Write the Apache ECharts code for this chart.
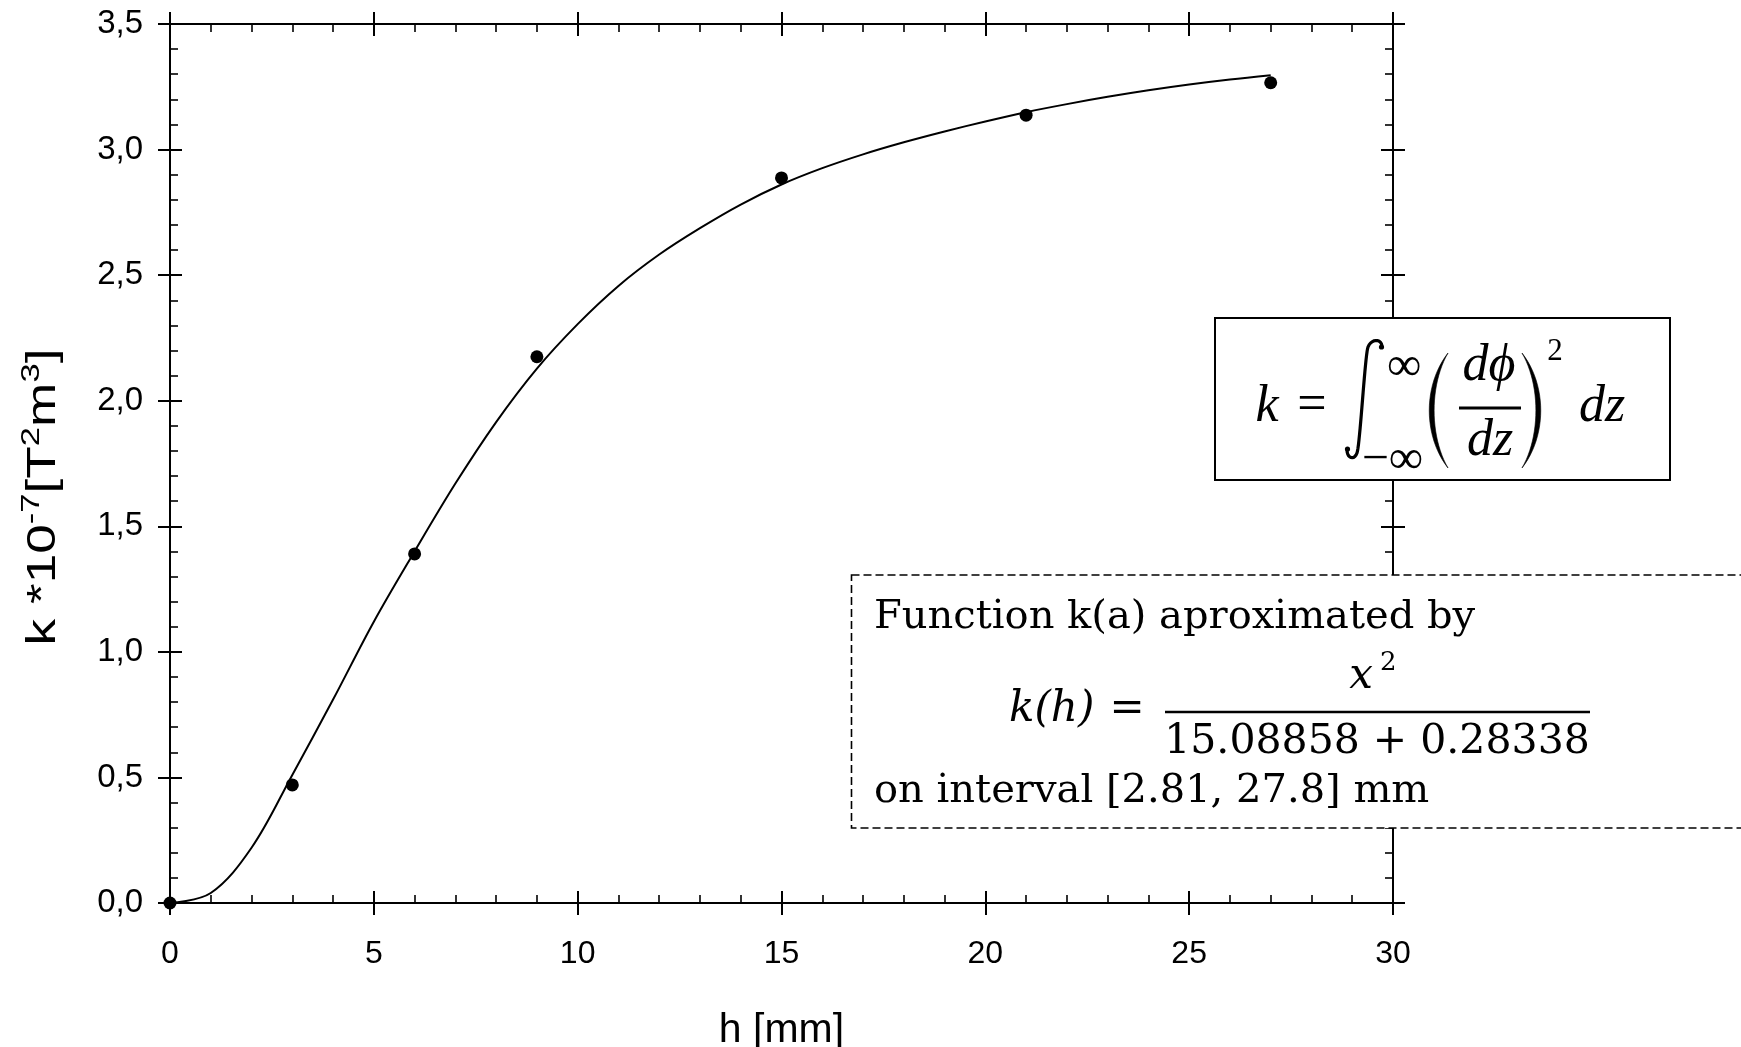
<!DOCTYPE html>
<html>
<head>
<meta charset="utf-8">
<script src="https://cdn.jsdelivr.net/npm/echarts@6/dist/echarts.min.js"></script>
<style>
  html, body { margin: 0; padding: 0; background: #fff; }
  #chart { width: 1741px; height: 1047px; }
</style>
</head>
<body>
<div id="chart"></div>
<script>
// Measured coupling constant k at each height h
const hValues = [0, 3, 6, 9, 15, 21, 27];
const kValues = [0, 0.47, 1.39, 2.175, 2.887, 3.137, 3.266];

// Approximating curve k(h), sampled along h
const fitH = [0, 1, 2, 3, 4, 5, 6, 7, 8, 9, 10, 11, 12, 13, 14, 15, 16, 17, 18, 19, 20, 21, 22, 23, 24, 25, 26, 27];
const fitK = [0, 0.04, 0.22, 0.51, 0.81, 1.12, 1.40, 1.67, 1.915, 2.128, 2.305, 2.457, 2.582, 2.687, 2.781, 2.861, 2.926, 2.981, 3.029, 3.072, 3.112, 3.149, 3.181, 3.21, 3.236, 3.259, 3.279, 3.296];

// Tick labels
const xTickLabels = ['0', '5', '10', '15', '20', '25', '30'];
const yTickLabels = ['0,0', '0,5', '1,0', '1,5', '2,0', '2,5', '3,0', '3,5'];

const SANS = '"Liberation Sans", Arial, sans-serif';
const SERIF = '"Liberation Serif", "Times New Roman", serif';
const TEXT_SERIF = '"DejaVu Serif", serif';
const BLACK = '#000';

const chart = echarts.init(document.getElementById('chart'), null, { renderer: 'canvas' });

// shared pieces for the boxed frame: every side carries ticks that cross the line
function xAxisDef(position, withLabels, inside) {
  return {
    type: 'value', gridIndex: 0, position: position,
    min: 0, max: 30, interval: 5,
    axisLine: { show: inside, onZero: false, lineStyle: { color: BLACK, width: 2 } },
    axisTick: { show: true, inside: inside, length: 12, lineStyle: { color: BLACK, width: 2 } },
    minorTick: { show: inside, splitNumber: 5, length: 8, lineStyle: { color: BLACK, width: 1.6 } },
    splitLine: { show: false }, minorSplitLine: { show: false },
    axisLabel: withLabels ? {
      show: true, margin: 35, color: BLACK, fontSize: 32, fontFamily: SANS,
      formatter: v => xTickLabels[Math.round(v / 5)]
    } : { show: false },
    name: withLabels ? 'h [mm]' : '',
    nameLocation: 'middle', nameGap: 107,
    nameTextStyle: { color: BLACK, fontSize: 41, fontFamily: SANS }
  };
}
function yAxisDef(position, withLabels, inside) {
  return {
    type: 'value', gridIndex: 0, position: position,
    min: 0, max: 3.5, interval: 0.5,
    axisLine: { show: inside, onZero: false, lineStyle: { color: BLACK, width: 2 } },
    axisTick: { show: true, inside: inside, length: 12, lineStyle: { color: BLACK, width: 2 } },
    minorTick: { show: inside, splitNumber: 5, length: 8, lineStyle: { color: BLACK, width: 1.6 } },
    splitLine: { show: false }, minorSplitLine: { show: false },
    axisLabel: withLabels ? {
      show: true, margin: 27, color: BLACK, fontSize: 33, fontFamily: SANS,
      formatter: v => yTickLabels[Math.round(v / 0.5)]
    } : { show: false }
  };
}

// text helper: anchor at (x, baseline)
function mathText(text, x, baseline, size, opt) {
  opt = opt || {};
  const family = opt.family || SERIF;
  const mid = opt.mid || 0.3375;
  return {
    type: 'text', z: 101,
    x: x, y: baseline - mid * size,
    style: {
      text: text, x: 0, y: 0,
      font: (opt.italic ? 'italic ' : '') + size + 'px ' + family,
      fill: BLACK,
      align: opt.align || 'center', verticalAlign: 'middle',
      textAlign: opt.align || 'center', textVerticalAlign: 'middle'
    }
  };
}
function capText(text, x, baseline, size, opt) {
  opt = Object.assign({ family: TEXT_SERIF, mid: 0.346 }, opt || {});
  return mathText(text, x, baseline, size, opt);
}

// points along a cubic Bezier segment, used for the glyph outlines below
function cubic(p0, p1, p2, p3, n) {
  const pts = [];
  for (let i = 0; i <= n; i++) {
    const t = i / n, u = 1 - t;
    pts.push([
      u * u * u * p0[0] + 3 * u * u * t * p1[0] + 3 * u * t * t * p2[0] + t * t * t * p3[0],
      u * u * u * p0[1] + 3 * u * u * t * p1[1] + 3 * u * t * t * p2[1] + t * t * t * p3[1]
    ]);
  }
  return pts;
}
// a crescent-shaped bracket between top and bottom points
function bracket(xEnd, top, bottom, outerX, innerX) {
  const outer = cubic([xEnd, top], [outerX, top + 32], [outerX, bottom - 32], [xEnd, bottom], 24);
  const inner = cubic([xEnd, bottom], [innerX, bottom - 32], [innerX, top + 32], [xEnd, top], 24);
  return { type: 'polygon', z: 101, shape: { points: outer.concat(inner) },
           style: { fill: BLACK, stroke: BLACK, lineWidth: 0.6 } };
}
const integralPts = []
  .concat(cubic([1347, 450], [1347, 458], [1354, 461], [1357, 453], 10))
  .concat(cubic([1357, 453], [1360, 445], [1365, 355], [1368, 347], 20).slice(1))
  .concat(cubic([1368, 347], [1371, 339], [1381, 338], [1382, 346], 10).slice(1));

const graphics = [
  // vertical axis title, read bottom to top
  { type: 'text', z: 50, x: 64, y: 497, rotation: Math.PI / 2, scaleX: 1.33,
    style: {
      text: '{t|k *10}{s|-7}{t|[T}{s|2}{t|m}{s|3}{t|]}', x: 0, y: 0,
      font: '40px ' + SANS, fill: BLACK,
      align: 'center', verticalAlign: 'bottom', textAlign: 'center', textVerticalAlign: 'bottom',
      rich: {
        t: { fontSize: 40, fontFamily: SANS, fill: BLACK, verticalAlign: 'bottom', padding: [5, 0, 0, 0] },
        s: { fontSize: 26, fontFamily: SANS, fill: BLACK, verticalAlign: 'top' }
      }
    } },

  // framed definition of k
  { type: 'rect', z: 100, shape: { x: 1215, y: 318, width: 455, height: 162 },
    style: { fill: '#fff', stroke: BLACK, lineWidth: 2 } },
  mathText('k', 1267, 425, 52, { italic: true }),
  mathText('=', 1312, 424, 52),
  // integral sign
  { type: 'polyline', z: 101, shape: { points: integralPts },
    style: { fill: null, stroke: BLACK, lineWidth: 3.2 } },
  { type: 'circle', z: 101, shape: { cx: 1347.5, cy: 449, r: 2.6 }, style: { fill: BLACK } },
  { type: 'circle', z: 101, shape: { cx: 1381.5, cy: 347, r: 2.6 }, style: { fill: BLACK } },
  mathText('\u221E', 1404, 384, 48),
  mathText('\u2212\u221E', 1423, 477, 48, { align: 'right' }),
  // large parentheses
  bracket(1448, 353, 468, 1423, 1429.5),
  bracket(1522, 353, 468, 1547, 1540.5),
  mathText('d\u03D5', 1489, 384, 52, { italic: true }),
  { type: 'line', z: 101, shape: { x1: 1459, y1: 408, x2: 1521, y2: 408 },
    style: { stroke: BLACK, lineWidth: 3 } },
  mathText('dz', 1490, 459, 52, { italic: true }),
  mathText('2', 1555, 362, 31),
  mathText('dz', 1602, 425, 52, { italic: true }),

  // dashed caption with the approximating function
  { type: 'rect', z: 100, shape: { x: 851.5, y: 575, width: 920, height: 253 },
    style: { fill: '#fff', stroke: BLACK, lineWidth: 1.6, lineDash: [8, 4] } },
  capText('Function k(a) aproximated by', 874, 631, 40, { align: 'left' }),
  capText('k(h)', 1009, 725, 42, { align: 'left', italic: true }),
  capText('=', 1127, 725, 42),
  capText('x', 1361, 692, 42, { italic: true }),
  capText('2', 1380, 672, 26, { align: 'left' }),
  { type: 'line', z: 101, shape: { x1: 1165, y1: 712, x2: 1590, y2: 712 },
    style: { stroke: BLACK, lineWidth: 2.5 } },
  capText('15.08858 + 0.28338', 1377, 757, 41),
  capText('on interval [2.81, 27.8] mm', 874, 805, 40, { align: 'left' })
];

chart.setOption({
  backgroundColor: '#fff',
  animation: false,
  grid: { left: 170, right: 348, top: 24, bottom: 144, containLabel: false, outerBoundsMode: 'none' },
  xAxis: [
    xAxisDef('bottom', true, true),
    xAxisDef('bottom', false, false),
    xAxisDef('top', false, true),
    xAxisDef('top', false, false)
  ],
  yAxis: [
    yAxisDef('left', true, true),
    yAxisDef('left', false, false),
    yAxisDef('right', false, true),
    yAxisDef('right', false, false)
  ],
  series: [
    {
      type: 'line', name: 'fit', xAxisIndex: 0, yAxisIndex: 0,
      data: fitH.map((h, i) => [h, fitK[i]]),
      smooth: 0.35, showSymbol: false, symbol: 'none',
      lineStyle: { color: BLACK, width: 2, opacity: 1 }, z: 3
    },
    {
      type: 'scatter', name: 'measured', xAxisIndex: 0, yAxisIndex: 0,
      data: hValues.map((h, i) => [h, kValues[i]]),
      symbol: 'circle', symbolSize: 13,
      itemStyle: { color: BLACK, opacity: 1 }, z: 4
    }
  ],
  graphic: { elements: graphics }
});
</script>
</body>
</html>
